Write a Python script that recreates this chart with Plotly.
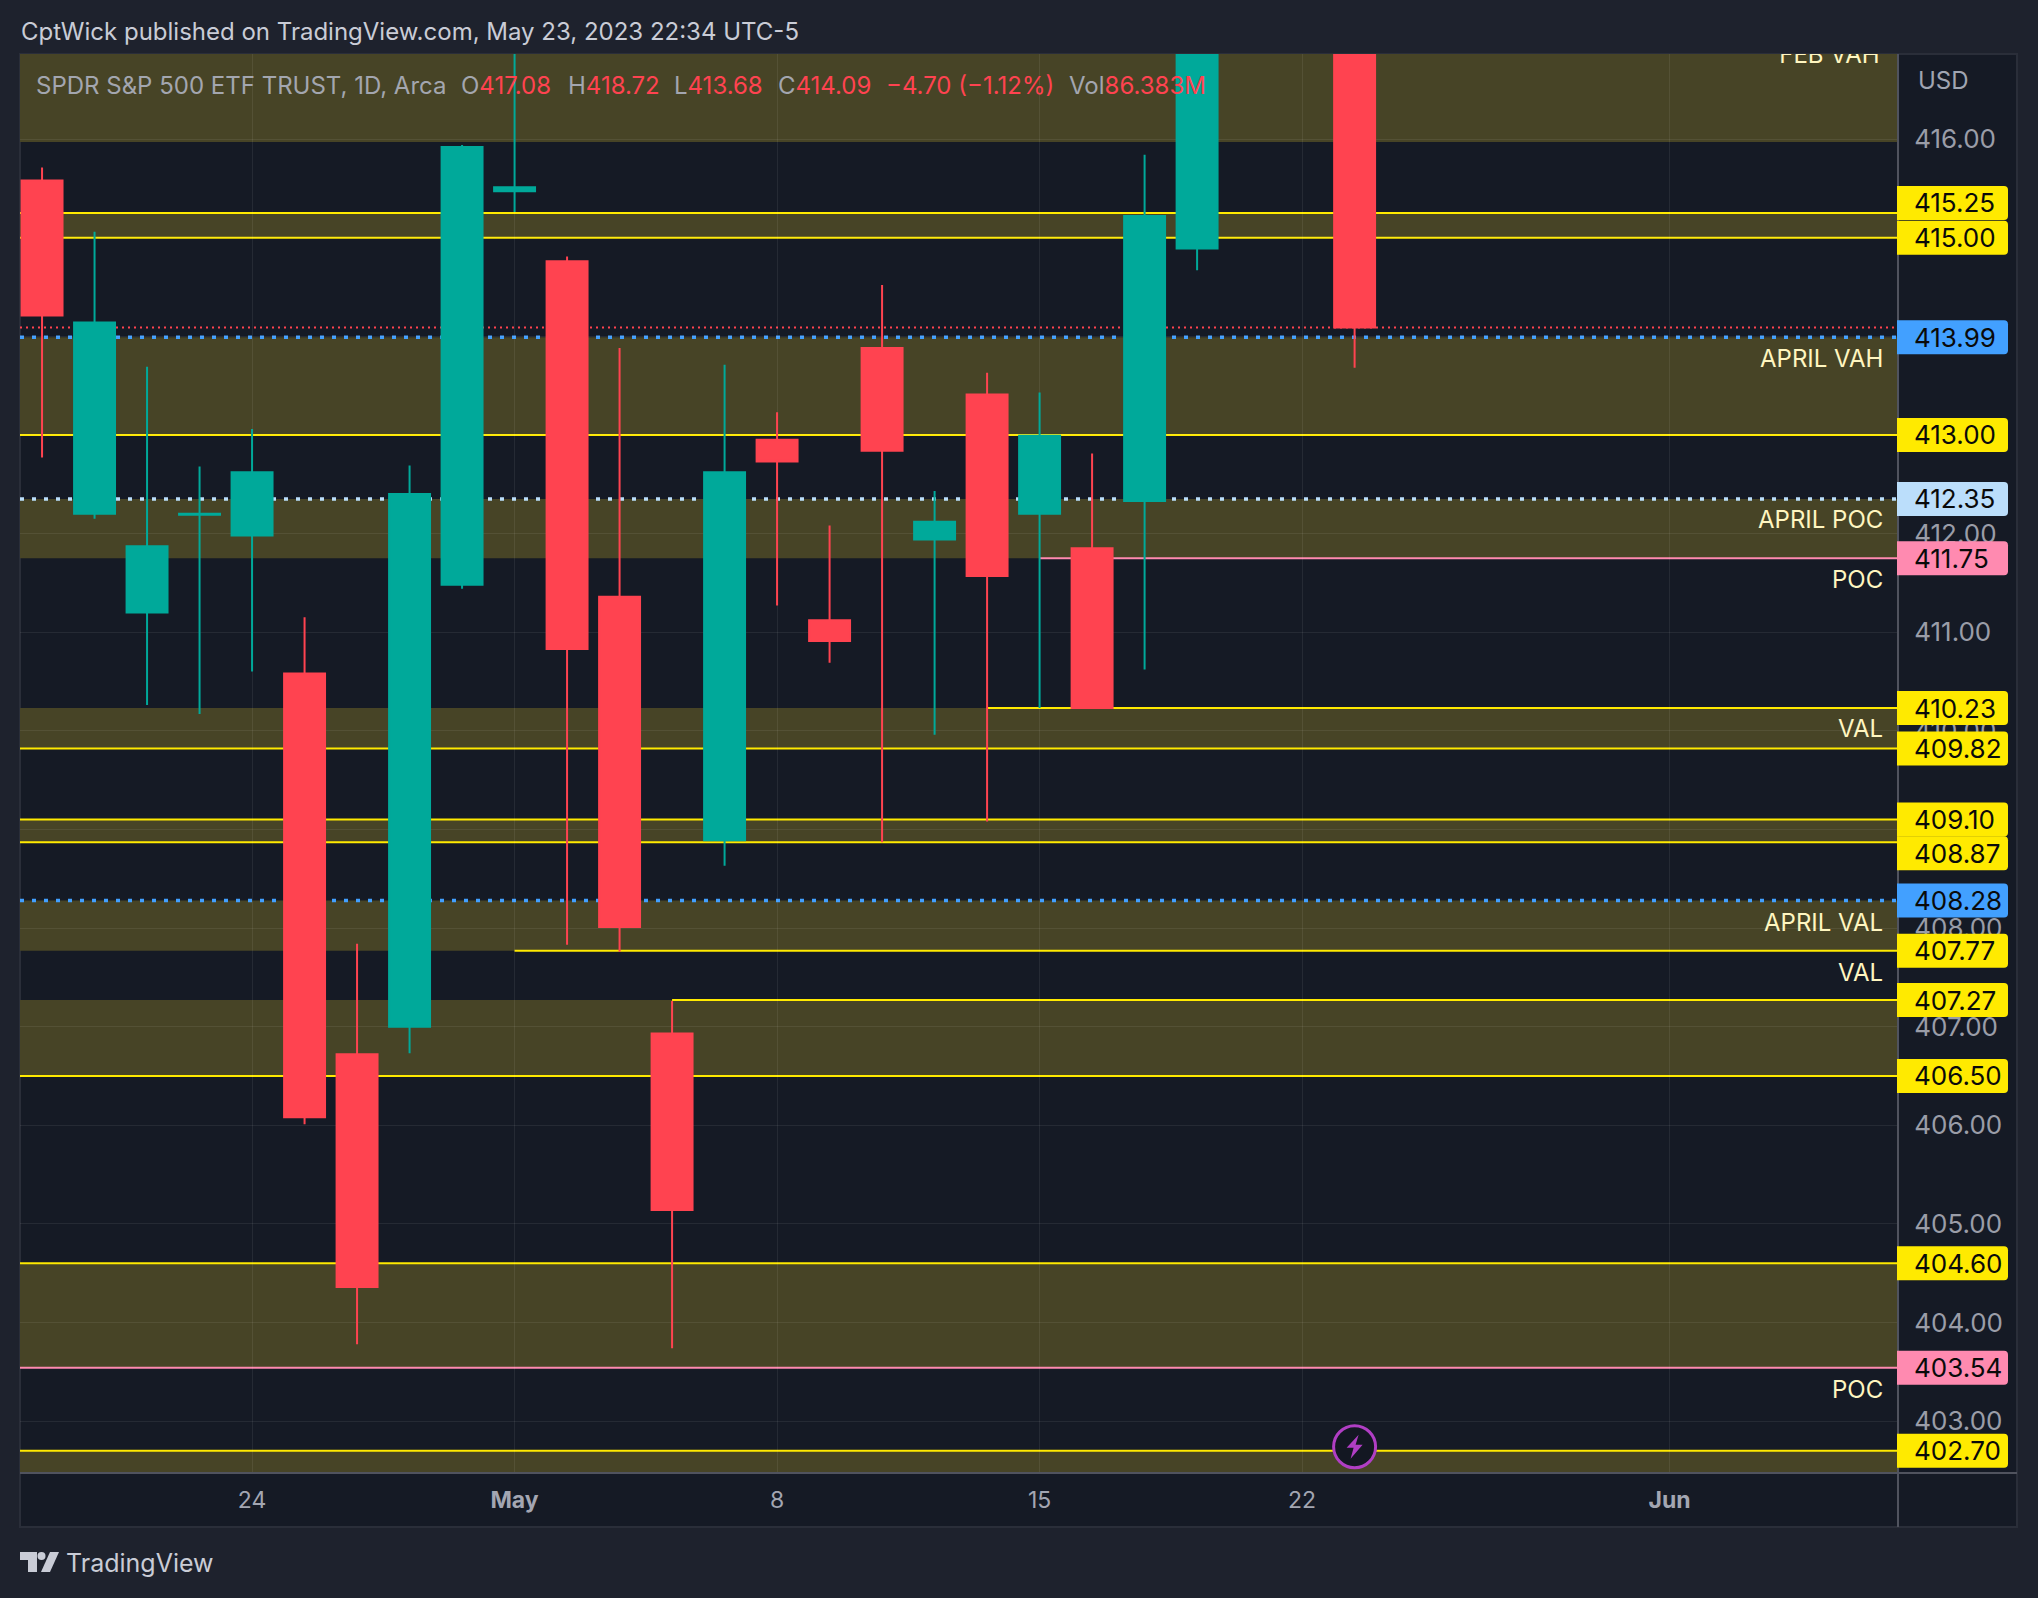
import plotly.graph_objects as go

W, H = 2038, 1598
L, R, T, B = 20, 1898, 54, 1473
FONT = "Inter"
UP, DOWN = "#00a99a", "#ff4350"
YEL, BLUE, PINK, ICE = "#ffea00", "#42a0ff", "#ff8ab0", "#bbdefb"
OLIVE = "#474426"

dates = ["2023-04-18","2023-04-19","2023-04-20","2023-04-21","2023-04-24","2023-04-25","2023-04-26",
         "2023-04-27","2023-04-28","2023-05-01","2023-05-02","2023-05-03","2023-05-04","2023-05-05",
         "2023-05-08","2023-05-09","2023-05-10","2023-05-11","2023-05-12","2023-05-15","2023-05-16",
         "2023-05-17","2023-05-18","2023-05-19","2023-05-22","2023-05-23"]
future_dates = ["2023-05-24","2023-05-25","2023-05-26","2023-05-30","2023-05-31","2023-06-01","2023-06-02",
                "2023-06-05","2023-06-06","2023-06-07","2023-06-08","2023-06-09"]
opens  = [415.58,412.20,411.20,412.19,411.98,410.58,406.72,407.00,411.48,415.47,414.76,411.36,406.93,
          408.89,412.95,411.12,413.88,411.94,413.41,412.20,411.85,412.33,414.89,420.17,418.64,417.08]
highs  = [415.71,415.06,413.69,412.68,413.06,411.15,407.84,412.69,415.94,417.62,414.81,413.88,407.26,
          413.71,413.23,412.08,414.52,412.43,413.63,413.43,412.81,415.84,419.00,420.72,420.39,418.72]
lows   = [412.77,412.15,410.26,410.17,410.60,406.01,403.78,406.73,411.44,415.26,407.83,407.76,403.74,
          408.63,411.27,410.69,408.87,409.96,409.08,410.23,410.23,410.62,414.67,417.35,417.35,413.68]
closes = [414.21,414.14,411.87,412.20,412.62,406.08,404.36,412.40,415.92,415.51,410.83,408.01,405.14,
          412.62,412.73,410.91,412.84,412.12,411.57,412.99,410.23,415.22,418.79,418.62,418.79,414.09]

tick_prices = list(range(403, 417))
hidden_tick_prices = [409, 413, 414, 415]
time_tick_dates = ["2023-04-24","2023-05-01","2023-05-08","2023-05-15","2023-05-22","2023-06-01"]
time_tick_text = ["24","<b>May</b>","8","15","22","<b>Jun</b>"]

zone_tops    = [417.5,415.25,413.99,412.35,410.23,409.10,408.28,407.27,404.60,402.70]
zone_bottoms = [415.97,415.00,413.00,411.75,409.82,408.87,407.77,406.50,403.54,402.30]

line_levels = [415.25,415.00,413.00,411.75,410.23,409.82,409.10,408.87,407.77,407.27,406.50,404.60,403.54,402.70]
line_starts = [None,None,None,"2023-05-15","2023-05-12",None,None,None,"2023-05-01","2023-05-04",None,None,None,None]
line_kinds  = ["y","y","y","p","y","y","y","y","y","y","y","y","p","y"]

tag_levels = [415.25,415.00,413.99,413.00,412.35,411.75,410.23,409.82,409.10,408.87,408.28,407.77,407.27,406.50,404.60,403.54,402.70]
tag_kinds  = ["y","y","b","y","i","p","y","y","y","y","b","y","y","y","y","p","y"]
tag_shifts = [10,0,0,0,0,0,0,0,0,-11,0,0,0,0,0,0,0]

zone_names = ["APRIL VAH","APRIL POC","POC","VAL","APRIL VAL","VAL","POC"]
zone_name_levels = [413.77,412.14,411.53,410.02,408.06,407.55,403.32]

last_close = 414.09
legend_name = "SPDR S&amp;P 500 ETF TRUST, 1D, Arca"
legend_labels = ["O","H","L","C"]
legend_values = ["417.08","418.72","413.68","414.09"]
legend_change = "−4.70 (−1.12%)"
legend_vol = "86.383M"

all_dates = dates + future_dates
ppx = (R - L)
ppy = (B - T)
def px(x): return (x - L) / ppx
def py(y): return 1 - (y - T) / ppy

fig = go.Figure()
fig.add_trace(go.Candlestick(
    x=dates, open=opens, high=highs, low=lows, close=closes,
    increasing=dict(line=dict(color=UP, width=2), fillcolor=UP),
    decreasing=dict(line=dict(color=DOWN, width=2), fillcolor=DOWN),
    whiskerwidth=0, hoverinfo="skip", showlegend=False))
fig.add_trace(go.Scatter(
    x=["2023-06-07"], y=[416.83], mode="text", text=["FEB VAH"], textposition="middle left",
    textfont=dict(family=FONT, size=24, color="#fff6c0"), cliponaxis=True, hoverinfo="skip", showlegend=False))

shapes = []
shapes.append(dict(type="rect", xref="paper", yref="paper", x0=0, x1=px(2017), y0=py(1527), y1=1,
                   fillcolor="#151a25", line=dict(color="#2a2e39", width=2), layer="below"))
for t, b in zip(zone_tops, zone_bottoms):
    shapes.append(dict(type="rect", xref="paper", yref="y", x0=0, x1=1, y0=b, y1=t,
                       fillcolor=OLIVE, line=dict(width=0), layer="below"))
shapes.append(dict(type="line", xref="paper", yref="y", x0=0, x1=1, y0=last_close, y1=last_close,
                   line=dict(color=DOWN, width=2, dash="2px,4px"), layer="below"))
for lv, c, d in [(413.99, BLUE, "4px,8px"), (408.28, BLUE, "4px,8px"), (412.35, ICE, "4px,8px")]:
    shapes.append(dict(type="line", xref="paper", yref="y", x0=0, x1=1, y0=lv, y1=lv,
                       line=dict(color=c, width=3.5, dash=d), layer="below"))
for lv, st, k in zip(line_levels, line_starts, line_kinds):
    col = YEL if k == "y" else PINK
    if st is None:
        shapes.append(dict(type="line", xref="paper", yref="y", x0=0, x1=1, y0=lv, y1=lv,
                           line=dict(color=col, width=2), layer="below"))
    else:
        shapes.append(dict(type="line", xref="x", yref="y", x0=st, x1=all_dates[-1], y0=lv, y1=lv,
                           line=dict(color=col, width=2), layer="below"))
shapes.append(dict(type="line", xref="paper", yref="paper", x0=1, x1=1, y0=py(1527), y1=1,
                   line=dict(color="#50535e", width=2), layer="above"))
shapes.append(dict(type="line", xref="paper", yref="paper", x0=0, x1=px(2017), y0=0, y1=0,
                   line=dict(color="#50535e", width=2), layer="above"))
tag_colors = {"y": YEL, "b": BLUE, "p": PINK, "i": ICE}
annotations = []
for lv, k, s in zip(tag_levels, tag_kinds, tag_shifts):
    a, b = -17 + s, 17 + s
    tag_path = f"M -1,{a} L 106,{a} Q 110,{a} 110,{a+4} L 110,{b-4} Q 110,{b} 106,{b} L -1,{b} Z"
    shapes.append(dict(type="path", xref="paper", yref="y", xsizemode="pixel", ysizemode="pixel",
                       xanchor=1, yanchor=lv, path=tag_path, fillcolor=tag_colors[k], line=dict(width=0),
                       layer="above"))
    annotations.append(dict(xref="paper", yref="y", x=px(1912), y=lv, yshift=s, xanchor="left", yanchor="middle",
                            text=f"{lv:.2f}", showarrow=False, font=dict(family=FONT, size=26, color="#0a0a0a")))
shapes.append(dict(type="circle", xref="x", yref="y", xsizemode="pixel", ysizemode="pixel",
                   xanchor="2023-05-23", yanchor=402.74, x0=-21, x1=21, y0=-21, y1=21,
                   fillcolor="#131722", line=dict(color="#b03ec4", width=3), layer="above"))
shapes.append(dict(type="path", xref="x", yref="y", xsizemode="pixel", ysizemode="pixel",
                   xanchor="2023-05-23", yanchor=402.74,
                   path="M 4,12 L -8,-1 L -1,-1 L -4,-12 L 8,2 L 1,2 Z",
                   fillcolor="#b03ec4", line=dict(width=0), layer="above"))
logo_c = "#c9ccd6"
def logo_path(pts):
    return "M " + " L ".join(f"{px(a):.5f},{py(b):.5f}" for a, b in pts) + " Z"
shapes.append(dict(type="path", xref="paper", yref="paper", fillcolor=logo_c, line=dict(width=0),
                   path=logo_path([(20,1552),(37,1552),(37,1572),(28,1572),(28,1560),(20,1560)])))
shapes.append(dict(type="path", xref="paper", yref="paper", fillcolor=logo_c, line=dict(width=0),
                   path=logo_path([(50,1552),(59,1552),(50,1572),(41,1572)])))
shapes.append(dict(type="circle", xref="paper", yref="paper", fillcolor=logo_c, line=dict(width=0),
                   x0=px(37.5), x1=px(45.5), y0=py(1560), y1=py(1552)))

for name, lv in zip(zone_names, zone_name_levels):
    annotations.append(dict(xref="paper", yref="y", x=px(1885), y=lv, xanchor="right", yanchor="middle",
                            text=name, showarrow=False, font=dict(family=FONT, size=24, color="#fff6c0")))

def txt(x, y, s, color, size=24, anchor="left"):
    annotations.append(dict(xref="paper", yref="paper", x=px(x), y=py(y), xanchor=anchor, yanchor="middle",
                            text=s, showarrow=False, font=dict(family=FONT, size=size, color=color)))

txt(19, 32, "CptWick published on TradingView.com, May 23, 2023 22:34 UTC-5", "#c9ccd6", 24)
txt(64, 1563, "TradingView", "#c9ccd6", 25)
txt(1916, 80, "USD", "#a0a5b2", 24)
GREY = "#a3a6af"
txt(34, 86, legend_name, GREY, 24)
for x, lab, v in zip([459, 566, 672, 776], legend_labels, legend_values):
    txt(x, 86, f'{lab}<span style="color:{DOWN}">{v}</span>', GREY, 24)
txt(884, 86, legend_change, DOWN, 24)
txt(1067, 86, f'Vol<span style="color:{DOWN}">{legend_vol}</span>', GREY, 24)

GRID = "rgba(255,255,255,0.07)"
fig.update_layout(
    width=W, height=H, autosize=False,
    margin=dict(l=L, r=W - R, t=T, b=H - B, pad=0),
    paper_bgcolor="#1e222d", plot_bgcolor="#151a25",
    boxgap=0.22, boxgroupgap=0, showlegend=False, hovermode=False,
    shapes=shapes, annotations=annotations,
    xaxis=dict(type="category", categoryorder="array", categoryarray=all_dates,
               range=[-0.42, 35.35], rangeslider=dict(visible=False),
               tickmode="array", tickvals=time_tick_dates, ticktext=time_tick_text,
               tickfont=dict(family=FONT, size=23, color="#a3a6b2"), ticks="outside", ticklen=6,
               tickcolor="rgba(0,0,0,0)", showgrid=True, gridcolor=GRID, gridwidth=1.3,
               zeroline=False, showline=False),
    yaxis=dict(side="right", range=[402.474, 416.862], tickmode="array", tickvals=tick_prices,
               ticktext=["" if p in hidden_tick_prices else f"{p:.2f}" for p in tick_prices],
               tickfont=dict(family=FONT, size=26, color="#9a9da8"), ticks="outside", ticklen=10,
               tickcolor="rgba(0,0,0,0)", showgrid=True, gridcolor=GRID, gridwidth=1.3,
               zeroline=False, showline=False),
)
fig.write_html("out.html", config=dict(displayModeBar=False),
               post_script="document.body.style.margin='0';document.body.style.background='#1e222d';document.documentElement.style.overflow='hidden';")
